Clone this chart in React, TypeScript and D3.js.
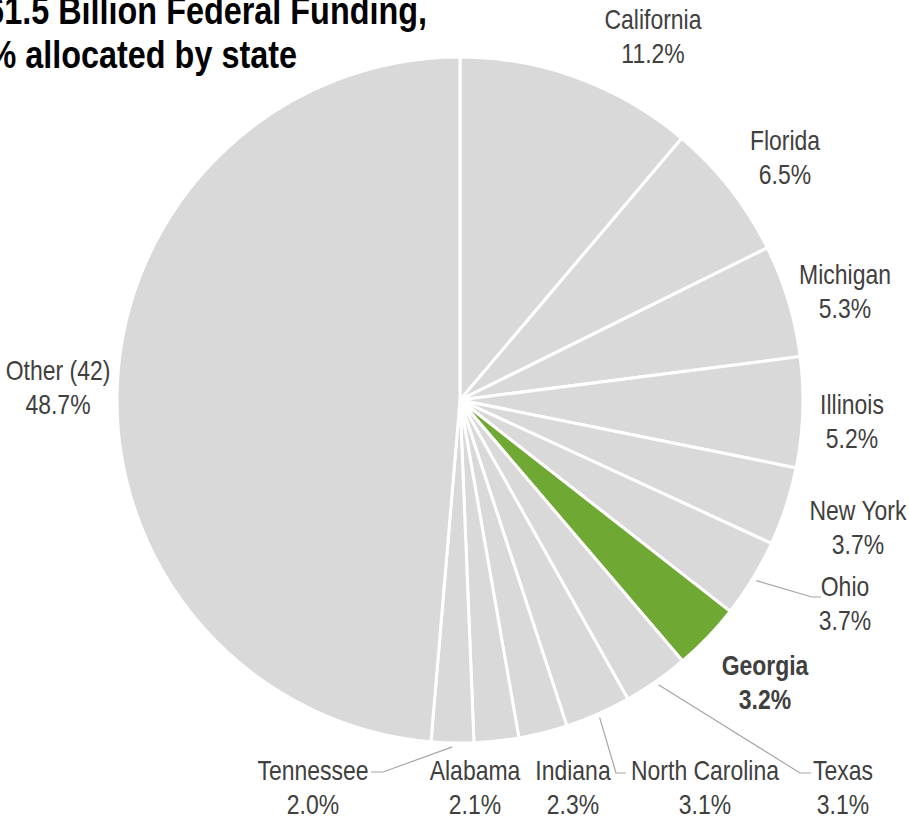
import React from "react";
import * as d3 from "d3";

const states = ["California", "Florida", "Michigan", "Illinois", "New York", "Ohio", "Georgia", "Texas", "North Carolina", "Indiana", "Alabama", "Tennessee", "Other (42)"];
const shares = [11.2, 6.5, 5.3, 5.2, 3.7, 3.7, 3.2, 3.1, 3.1, 2.3, 2.1, 2.0, 48.7];
const highlighted = "Georgia";
const titleLines = ["$61.5 Billion Federal Funding,", "100% allocated by state"];

// layout: label anchor (center x, first baseline y)
const labelPos: Record<string, [number, number]> = {
  "California": [653, 29],
  "Florida": [785, 150],
  "Michigan": [845, 284],
  "Illinois": [852, 414],
  "New York": [858, 520],
  "Ohio": [845, 596],
  "Georgia": [765, 675],
  "Texas": [843, 780],
  "North Carolina": [705, 780],
  "Indiana": [573, 780],
  "Alabama": [475, 780],
  "Tennessee": [313, 780],
  "Other (42)": [58, 380],
};
// leader elbows: [elbowX, elbowY, endX]
const leaders: Record<string, [number, number, number]> = {
  "Ohio": [812, 597, 821],
  "Texas": [800, 773, 811],
  "North Carolina": [616, 773, 626],
  "Tennessee": [383, 772, 371],
};

const W = 909, H = 821;
const cx = 460, cy = 400, R = 343;
const FONT = "'Liberation Sans', Arial, sans-serif";
const NARROW = 0.82;

function NText({ x, y, anchor, size, weight, fill, children }: any) {
  return (
    <g transform={`translate(${x},${y}) scale(${NARROW},1)`}>
      <text x={0} y={0} textAnchor={anchor} fontSize={size} fontWeight={weight} fill={fill}>{children}</text>
    </g>
  );
}

export default function App() {
  const data = states.map((s, i) => ({ name: s, value: shares[i] }));
  const pie = d3.pie<any>().sort(null).value((d: any) => d.value).startAngle(0).endAngle(2 * Math.PI);
  const arcs = pie(data);
  const arc = d3.arc<any>().innerRadius(0).outerRadius(R);
  const lineGen = d3.line();

  return (
    <svg width={W} height={H} style={{ position: "absolute", left: 0, top: 0, background: "#fff" }} fontFamily={FONT}>
      <g transform={`translate(${cx},${cy})`}>
        {arcs.map((a) => (
          <path key={a.data.name} d={arc(a) || ""} fill={a.data.name === highlighted ? "#6fa832" : "#d9d9d9"} stroke="#fff" strokeWidth={3} strokeLinejoin="round" />
        ))}
      </g>
      {arcs.map((a) => {
        const l = leaders[a.data.name];
        if (!l) return null;
        const mid = (a.startAngle + a.endAngle) / 2;
        const r0 = R + 4;
        const p0: [number, number] = [cx + r0 * Math.sin(mid), cy - r0 * Math.cos(mid)];
        return <path key={"l" + a.data.name} d={lineGen([p0, [l[0], l[1]], [l[2], l[1]]]) || ""} fill="none" stroke="#a6a6a6" strokeWidth={1.2} />;
      })}
      {arcs.map((a) => {
        const [x, y] = labelPos[a.data.name];
        const bold = a.data.name === highlighted;
        return (
          <g key={"t" + a.data.name}>
            <NText x={x} y={y} anchor="middle" size={28} weight={bold ? "bold" : "normal"} fill="#404040">{a.data.name}</NText>
            <NText x={x} y={y + 34} anchor="middle" size={28} weight={bold ? "bold" : "normal"} fill="#404040">{d3.format(".1f")(a.data.value) + "%"}</NText>
          </g>
        );
      })}
      <NText x={427} y={24} anchor="end" size={39.5} weight="bold" fill="#000">{titleLines[0]}</NText>
      <NText x={297} y={68} anchor="end" size={39.5} weight="bold" fill="#000">{titleLines[1]}</NText>
    </svg>
  );
}
